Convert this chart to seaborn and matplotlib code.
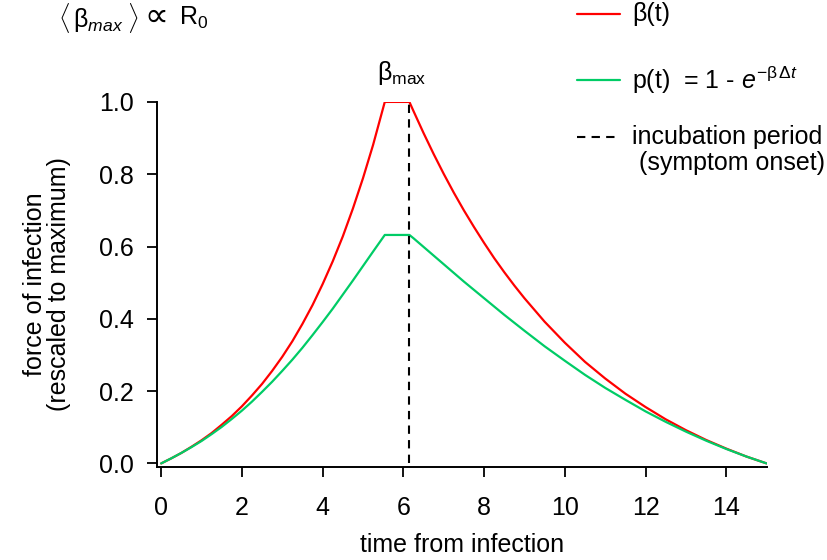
import matplotlib
matplotlib.use("Agg")
import matplotlib.pyplot as plt
from matplotlib.lines import Line2D
import seaborn as sns

# ---- data ----
t_vals = [0.0, 0.25, 0.5, 0.75, 1.0, 1.25, 1.5, 1.75, 2.0, 2.25, 2.5, 2.75, 3.0,
          3.25, 3.5, 3.75, 4.0, 4.25, 4.5, 4.75, 5.0, 5.25, 5.54, 6.15,
          6.25, 6.5, 6.75, 7.0, 7.25, 7.5, 7.75, 8.0, 8.25, 8.5, 8.75, 9.0,
          9.5, 10.0, 10.5, 11.0, 11.5, 12.0, 12.5, 13.0, 13.5, 14.0, 14.5, 15.0]
beta_vals = [0.0, 0.014, 0.029, 0.046, 0.064, 0.084, 0.107, 0.131, 0.158, 0.188, 0.220, 0.256, 0.295,
             0.338, 0.386, 0.438, 0.496, 0.559, 0.628, 0.705, 0.789, 0.881, 1.0, 1.0,
             0.975, 0.914, 0.856, 0.801, 0.749, 0.700, 0.654, 0.610, 0.568, 0.529, 0.492, 0.457,
             0.392, 0.334, 0.281, 0.235, 0.193, 0.156, 0.122, 0.092, 0.065, 0.041, 0.019, 0.0]
p_vals = [0.0, 0.014, 0.029, 0.045, 0.062, 0.081, 0.101, 0.123, 0.146, 0.171, 0.198, 0.226, 0.256,
          0.287, 0.320, 0.355, 0.391, 0.428, 0.467, 0.506, 0.546, 0.586, 0.632, 0.632,
          0.623, 0.599, 0.575, 0.551, 0.527, 0.503, 0.480, 0.457, 0.434, 0.411, 0.389, 0.367,
          0.324, 0.284, 0.245, 0.209, 0.176, 0.144, 0.115, 0.088, 0.063, 0.040, 0.019, 0.0]
incubation = 6.15
x_ticks = [0, 2, 4, 6, 8, 10, 12, 14]
y_ticks = [0.0, 0.2, 0.4, 0.6, 0.8, 1.0]
legend_labels = ["β(t)",
                 r"p(t)  = 1 - $\mathit{e}^{\mathrm{-β\,Δ}\mathit{t}}$",
                 "incubation period\n (symptom onset)"]

RED = "#FF0000"
GREEN = "#00CC66"

sns.set_style("ticks")
plt.rcParams["font.family"] = ["Liberation Sans", "DejaVu Sans"]
plt.rcParams["mathtext.fontset"] = "custom"
plt.rcParams["mathtext.rm"] = "Liberation Sans"
plt.rcParams["mathtext.it"] = "Liberation Sans:italic"
plt.rcParams["mathtext.bf"] = "Liberation Sans:bold"
plt.rcParams["text.color"] = "black"
plt.rcParams["axes.labelcolor"] = "black"

FS = 18
W, H = 827, 560

def fx(px):
    return px / W

def fy(py):
    return 1 - py / H

fig = plt.figure(figsize=(8.27, 5.6), dpi=100)
ax = fig.add_axes([0.190, 0.166, 0.737, 0.652])

sns.lineplot(x=t_vals, y=beta_vals, ax=ax, color=RED, lw=1.6, estimator=None, sort=False)
sns.lineplot(x=t_vals, y=p_vals, ax=ax, color=GREEN, lw=1.6, estimator=None, sort=False)
ax.vlines(incubation, 0, 1.0, colors="black", linestyles=(0, (4, 3)), lw=1.5)

ax.set_xlim(-0.1, 15)
ax.set_ylim(-0.01, 1.0)
ax.set_xticks(x_ticks)
ax.set_yticks(y_ticks)
ax.set_yticklabels([f"{v:.1f}" for v in y_ticks])
ax.tick_params(direction="out", length=7, width=1.3, labelsize=FS, colors="black")
ax.tick_params(axis="y", pad=10)
ax.tick_params(axis="x", pad=14)
for side in ["top", "right"]:
    ax.spines[side].set_visible(False)
for side in ["left", "bottom"]:
    ax.spines[side].set_linewidth(1.4)
    ax.spines[side].set_color("black")

ax.set_xlabel("time from infection", fontsize=FS, labelpad=9)
ax.set_ylabel("force of infection\n(rescaled to maximum)", fontsize=FS, labelpad=20, linespacing=1.0)

ax.text(5.95, 1.04, r"$\mathrm{β}_{\mathrm{max}}$", fontsize=FS, ha="center", va="bottom")

# top-left relation
fig.text(fx(58), fy(18), r"$\langle\,$β$_{\mathit{max}}\;\rangle$",
         fontsize=FS, ha="left", va="center")
fig.text(fx(144), fy(16), "∝", fontsize=FS + 6, ha="left", va="center",
         family=["DejaVu Sans"])
fig.text(fx(179), fy(18), r"R$_0$", fontsize=FS, ha="left", va="center")

# manual legend (figure pixel positions)
legend_styles = [dict(color=RED, lw=1.6, ls="-"),
                 dict(color=GREEN, lw=1.6, ls="-"),
                 dict(color="black", lw=1.5, ls=(0, (4, 3)))]
legend_y = [14, 80, 137]
for lab, sty, yy in zip(legend_labels, legend_styles, legend_y):
    fig.add_artist(Line2D([fx(577), fx(620)], [fy(yy), fy(yy)], transform=fig.transFigure, **sty))
    if "\n" in lab:
        fig.text(fx(632), fy(yy - 12), lab, fontsize=FS, ha="left", va="top", linespacing=1.1)
    else:
        fig.text(fx(632), fy(yy), lab, fontsize=FS, ha="left", va="center")

fig.savefig("out.png", dpi=100)
